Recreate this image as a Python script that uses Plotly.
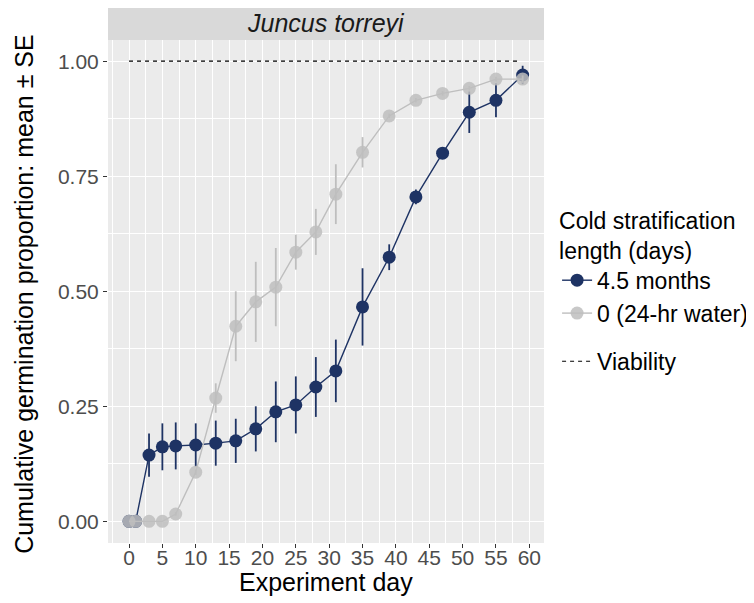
import plotly.graph_objects as go

# Experiment days
days = [0, 1, 3, 5, 7, 10, 13, 16, 19, 22, 25, 28, 31, 35, 39, 43, 47, 51, 55, 59]

# 4.5 months cold stratification
strat_mean = [0, 0, 0.144, 0.162, 0.164, 0.166, 0.170, 0.175, 0.201, 0.238, 0.253,
              0.292, 0.327, 0.466, 0.574, 0.705, 0.800, 0.889, 0.915, 0.970]
strat_se = [0, 0, 0.047, 0.051, 0.051, 0.047, 0.049, 0.048, 0.049, 0.066, 0.062,
            0.065, 0.068, 0.084, 0.028, 0.016, 0.008, 0.045, 0.037, 0.020]

# 0 days (24-hr water)
water_mean = [0, 0, 0, 0, 0.016, 0.107, 0.268, 0.424, 0.477, 0.509, 0.585,
              0.629, 0.711, 0.802, 0.881, 0.915, 0.930, 0.941, 0.961, 0.961]
water_se = [0, 0, 0, 0, 0.004, 0.006, 0.032, 0.076, 0.087, 0.085, 0.038,
            0.050, 0.065, 0.033, 0.005, 0.005, 0.005, 0.005, 0.005, 0.008]

viab_x = [0, 58.5]
viab_y = [1, 1]

navy = "#1E3364"
grey = "#BEBEBE"

fig = go.Figure()

fig.add_trace(go.Scatter(
    x=days, y=strat_mean, name="4.5 months", mode="lines+markers",
    line=dict(color=navy, width=1.4),
    marker=dict(color=navy, size=13),
    error_y=dict(type="data", array=strat_se, color=navy, thickness=1.8, width=0),
    legend="legend",
))
fig.add_trace(go.Scatter(
    x=days, y=water_mean, name="0 (24-hr water)", mode="lines+markers",
    line=dict(color=grey, width=1.4),
    marker=dict(color=grey, size=13, opacity=0.85),
    error_y=dict(type="data", array=water_se, color=grey, thickness=1.8, width=0),
    legend="legend",
))
fig.add_trace(go.Scatter(
    x=viab_x, y=viab_y, name="Viability", mode="lines",
    line=dict(color="black", width=1.2, dash="4px,4px"),
    legend="legend2",
))

# facet strip
fig.add_shape(type="rect", xref="paper", yref="paper", x0=0, x1=1, y0=1, y1=1.064,
              fillcolor="#D9D9D9", line=dict(width=0), layer="below")
fig.add_annotation(text="<i>Juncus torreyi</i>", xref="paper", yref="paper",
                   x=0.5, y=1.034, showarrow=False, yanchor="middle",
                   font=dict(size=25, color="#1A1A1A"))

# axis titles
fig.add_annotation(text="Experiment day", xref="paper", yref="paper",
                   x=0.5, y=-0.0775, showarrow=False, yanchor="middle",
                   font=dict(size=25, color="black"))
fig.add_annotation(text="Cumulative germination proportion: mean ± SE",
                   xref="paper", yref="paper", x=-0.193, y=0.495, textangle=-90,
                   showarrow=False, xanchor="center", yanchor="middle",
                   font=dict(size=25, color="black"))

axis_common = dict(
    showgrid=True, gridcolor="white", gridwidth=1.4, zeroline=False,
    ticks="outside", ticklen=4, tickcolor="#333333",
    tickfont=dict(size=21, color="#4D4D4D"),
    showline=False, automargin=False,
)

fig.update_xaxes(
    range=[-3.15, 62.2], tickmode="array", tickvals=list(range(0, 61, 5)),
    ticklabelstandoff=-8,
    minor=dict(dtick=2.5, tick0=2.5, gridcolor="white", gridwidth=0.6, showgrid=True),
    **axis_common,
)
fig.update_yaxes(
    range=[-0.047, 1.046], tickvals=[0, 0.25, 0.5, 0.75, 1.0], tickformat=".2f",
    minor=dict(dtick=0.125, tick0=0.125, gridcolor="white", gridwidth=0.6, showgrid=True),
    **axis_common,
)

fig.update_layout(
    width=770, height=595,
    margin=dict(l=100, r=234, t=32, b=60),
    plot_bgcolor="#EBEBEB", paper_bgcolor="white",
    font=dict(family="Liberation Sans, Arial, sans-serif"),
    legend=dict(
        title=dict(text="Cold stratification<br>length (days)", font=dict(size=23, color="black")),
        x=1.03, xanchor="left", y=0.684, yanchor="top",
        font=dict(size=23, color="black"), tracegroupgap=0, itemwidth=30,
        bgcolor="rgba(0,0,0,0)",
    ),
    legend2=dict(
        x=1.03, xanchor="left", y=0.404, yanchor="top",
        font=dict(size=23, color="black"), itemwidth=30,
        bgcolor="rgba(0,0,0,0)",
    ),
)

fig.write_html("out.html")
